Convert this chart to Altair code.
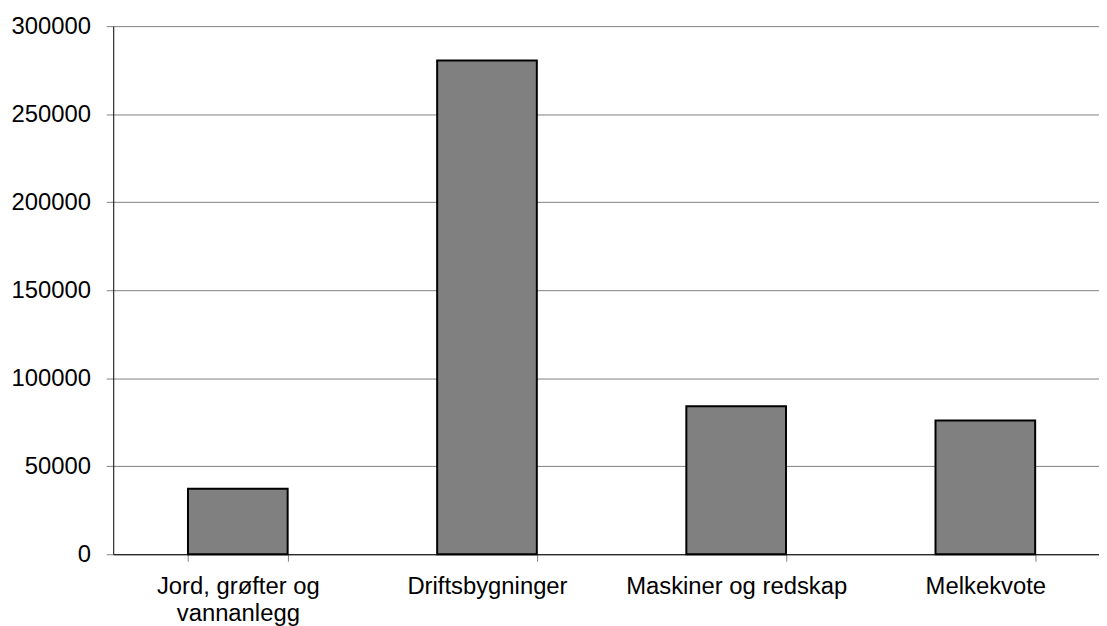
import altair as alt
import pandas as pd

categories = ["Jord, grøfter og vannanlegg", "Driftsbygninger", "Maskiner og redskap", "Melkekvote"]
values = [37200, 280500, 84100, 76000]
y_ticks = [0, 50000, 100000, 150000, 200000, 250000, 300000]

df = pd.DataFrame({"kategori": categories, "verdi": values})

FONT = "Liberation Sans, Arial, sans-serif"

chart = alt.Chart(df).mark_bar(
    fill="#808080", stroke="#000000", strokeWidth=2
).encode(
    x=alt.X(
        "kategori:N",
        sort=categories,
        title=None,
        scale=alt.Scale(paddingInner=0.6, paddingOuter=0.3, range=[0, 1004]),
        axis=alt.Axis(
            labelAngle=0,
            tickBand="extent",
            tickColor="#808080",
            tickSize=7,
            domainColor="#000000",
            labelPadding=14,
            labelFontSize=24,
            labelFont=FONT,
            labelColor="#000000",
            labelLineHeight=27,
            labelLimit=0,
            labelExpr="datum.label == 'Jord, grøfter og vannanlegg' ? ['Jord, grøfter og', 'vannanlegg'] : datum.label",
            grid=False,
        ),
    ),
    y=alt.Y(
        "verdi:Q",
        title=None,
        scale=alt.Scale(domain=[0, 300000], nice=False),
        axis=alt.Axis(
            values=y_ticks,
            format="d",
            grid=True,
            gridColor="#808080",
            gridWidth=1,
            gridOpacity=1,
            tickColor="#808080",
            tickSize=7,
            domainColor="#000000",
            labelPadding=16,
            labelFontSize=24,
            labelFont=FONT,
            labelColor="#000000",
        ),
    ),
).properties(
    width=993,
    height=532,
    autosize=alt.AutoSizeParams(type="none"),
    padding={"left": 106, "top": 16, "right": 0, "bottom": 70},
).configure_view(stroke=None)

chart.save("out.html", embed_options={"renderer": "svg", "actions": False})
